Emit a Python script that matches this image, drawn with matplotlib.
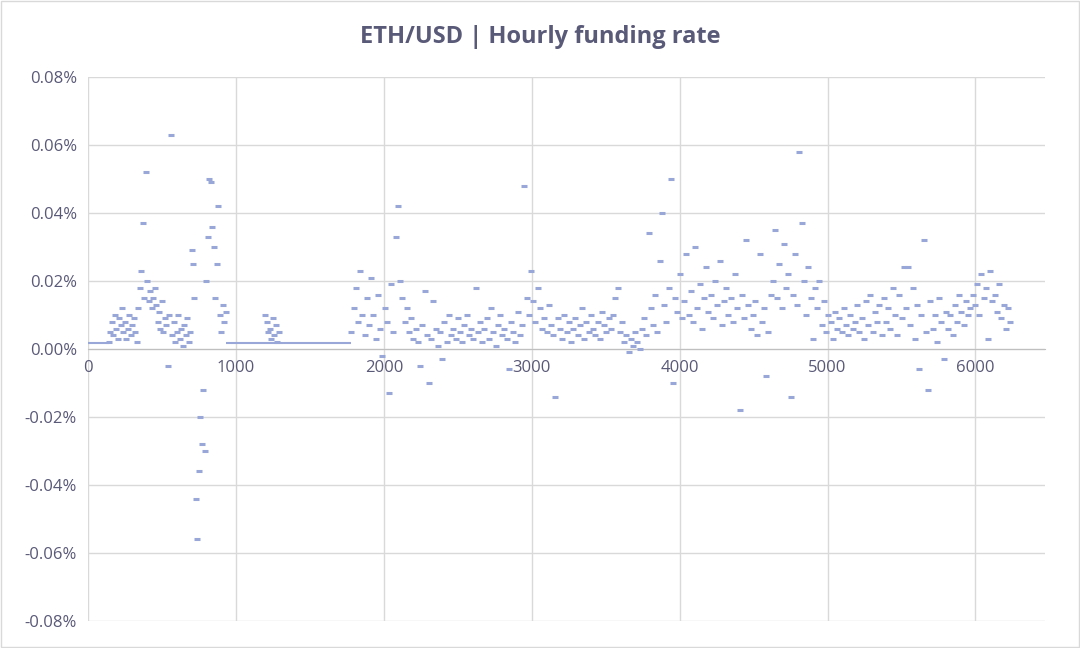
import numpy as np
import matplotlib
matplotlib.use("Agg")
import matplotlib.pyplot as plt
from matplotlib.ticker import FuncFormatter

# funding rate values in percent
p1_start, p1_step = 140, 10
p1 = [0.2,0.5,0.8,0.4,1.0,0.6,0.3,0.9,0.7,1.2,0.5,0.8,0.3,0.6,1.0,0.4,0.7,0.9,0.5,0.2,
      1.2,1.8,2.3,3.7,1.5,5.2,2.0,1.4,1.7,1.2,
      1.5,1.8,1.3,0.8,1.1,0.6,1.4,0.5,0.9,0.7,-0.5,1.0,
      6.3,0.4,0.8,0.2,0.5,1.0,0.3,0.6,0.1,0.7,0.4,0.9,0.2,0.5,
      2.9,2.5,1.5,-4.4,-5.6,-3.6,-2.0,-2.8,-1.2,-3.0,
      2.0,3.3,5.0,4.9,3.6,3.0,1.5,2.5,4.2,1.0,0.5,1.3,0.8,1.1]
p2_start, p2_step = 1200, 10
p2 = [1.0,0.8,0.5,0.6,0.3,0.9,0.4,0.7,0.2,0.5]
p3_start, p3_step = 1780, 15
p3 = [0.5,1.2,1.8,0.8,2.3,1.0,0.4,1.5,0.7,2.1,
      1.0,0.3,1.6,0.6,-0.2,1.2,0.8,-1.3,1.9,0.5,
      3.3,4.2,2.0,1.5,0.8,1.2,0.5,0.9,0.3,0.6,
      0.2,-0.5,0.7,1.7,0.4,-1.0,0.3,1.4,0.6,0.1,
      0.5,-0.3,0.8,0.2,1.0,0.4,0.6,0.3,0.9,0.5,
      0.2,0.7,1.0,0.4,0.6,0.3,1.8,0.5,0.8,0.2,
      0.6,0.9,0.3,1.2,0.5,0.1,0.7,1.0,0.4,0.6,
      0.3,-0.6,0.8,0.5,0.2,1.1,0.4,0.7,4.8,1.5,
      1.0,2.3,1.4,0.8,1.8,1.2,0.6,0.9,0.5,1.3,
      0.7,0.4,-1.4,0.9,0.6,0.3,1.0,0.5,0.8,0.2,
      0.6,0.9,0.4,0.7,1.2,0.3,0.8,0.5,1.0,0.6,
      0.4,0.8,0.3,1.1,0.7,0.5,0.9,0.6,1.0,1.5,
      1.8,0.5,0.8,0.2,0.4,-0.1,0.3,0.1,0.5,0.2,
      0.0,0.6,0.9,0.4,3.4,1.2,0.7,1.6,0.5,2.6,
      4.0,1.3,0.8,1.8,5.0,-1.0,1.5,1.1,2.2,0.9,
      1.4,2.8,1.0,1.7,0.8,3.0,1.2,1.9,0.6,1.5,
      2.4,1.1,1.6,0.9,2.0,1.3,2.6,0.7,1.4,1.8,
      1.0,1.5,0.8,2.2,1.2,-1.8,1.6,0.9,3.2,1.3,
      0.6,1.0,1.4,0.4,2.8,0.8,1.2,-0.8,0.5,1.6,
      2.0,3.5,1.5,2.5,1.2,3.1,1.8,2.2,-1.4,1.6,
      2.8,1.3,5.8,3.7,2.0,1.0,2.4,1.5,0.3,1.8,
      1.2,2.0,0.7,1.4,0.5,1.0,0.8,0.3,1.1,0.6,
      0.9,0.5,1.2,0.7,0.4,1.0,0.6,0.8,1.3,0.5,
      0.9,0.3,1.4,0.7,1.6,0.5,1.1,0.8,1.3,0.4,
      1.5,0.8,1.2,0.6,1.8,1.0,0.4,1.6,0.9,2.4,
      1.2,2.4,0.7,1.8,0.3,1.3,-0.6,1.0,3.2,0.5,
      -1.2,1.4,0.6,1.0,0.2,1.5,0.8,-0.3,1.1,0.6,
      1.0,0.4,1.3,0.8,1.6,1.1,0.7,1.4,1.0,1.2,
      1.6,1.3,1.9,1.0,2.2,1.5,1.8,0.3,2.3,1.4,
      1.6,1.1,1.9,0.9,1.3,0.6,1.2,0.8]
flat_value = 0.18
flat_segments = [(0, 140), (930, 1780)]

scale = 0.01  # values above are in units of 0.01 %
color = "#98a6d8"
tc = "#595978"

fig = plt.figure(figsize=(10.8, 6.48), dpi=100)
ax = fig.add_axes([88/1080, 27/648, 957/1080, 544/648])
for start, step, vals in [(p1_start, p1_step, p1), (p2_start, p2_step, p2), (p3_start, p3_step, p3)]:
    xs = start + step*np.arange(len(vals))
    ax.scatter(xs, np.array(vals)*scale, marker="_", s=22, linewidths=2.2, color=color, zorder=3)
for a, b in flat_segments:
    ax.hlines(flat_value*scale, a, b, color=color, lw=1.5, zorder=3)

ax.set_xlim(0, 6470)
ax.set_ylim(-0.08, 0.08)
ax.set_yticks(np.arange(-0.08, 0.081, 0.02))
ax.set_xticks(range(0, 7000, 1000))
ax.yaxis.set_major_formatter(FuncFormatter(lambda v, p: f"{v:.2f}%"))
ax.grid(True, color="#d9d9d9", lw=1)
ax.set_axisbelow(True)
for s in ["top", "right", "left"]:
    ax.spines[s].set_visible(False)
ax.spines["bottom"].set_position(("data", 0))
ax.spines["bottom"].set_color("#bfbfbf")
ax.tick_params(length=0, labelsize=12, colors=tc, pad=8)
for t in ax.get_xticklabels():
    t.set_fontfamily("Open Sans")
for t in ax.get_yticklabels():
    t.set_fontfamily("Open Sans")
fig.text(0.5, 0.943, "ETH/USD | Hourly funding rate", ha="center", va="center",
         fontsize=17, fontweight="bold", color=tc, family="Open Sans")
fig.patches.append(plt.Rectangle((0.001, 0.001), 0.998, 0.998, transform=fig.transFigure,
                                 fill=False, edgecolor="#d9d9d9", lw=1))
fig.savefig("out.png", dpi=100)
